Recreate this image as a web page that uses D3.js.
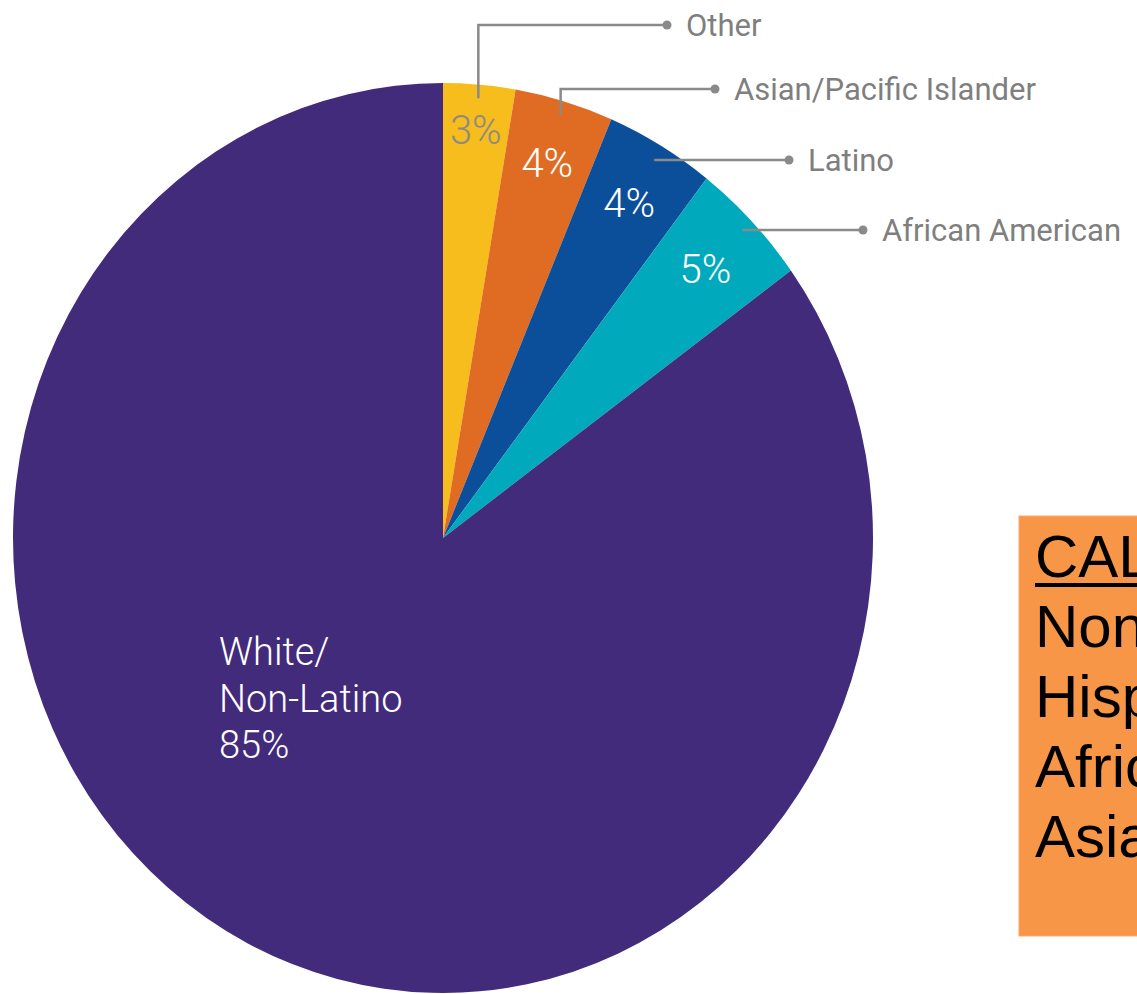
<!DOCTYPE html>
<html>
<head>
<meta charset="utf-8">
<script src="https://cdn.jsdelivr.net/npm/d3@7"></script>
<style>
  body { margin: 0; background: #fff; }
  svg { display: block; }
</style>
</head>
<body>
<script>
// slices, clockwise from 12 o'clock
const groups = ["Other", "Asian/Pacific Islander", "Latino", "African American", "White/Non-Latino"];
const shares = [2.7, 3.7, 4.1, 4.5, 85];
const pctLabels = ["3%", "4%", "4%", "5%", "85%"];
const colors = ["#f6bd1d", "#e06c24", "#0b4f9b", "#00aabc", "#432b7c"];

const boxTitle = "CALIFORNIA";
const boxLines = ["Non-Hispanic White", "Hispanic", "African American", "Asian"];

const width = 1137, height = 994;
const cx = 443, cy = 538, rx = 430, ry = 455;

// callout layout for the four small slices (label line y, dot x, pct label radius)
const callouts = [
  {y: 25, dotX: 667, up: true, f: 0.9},
  {y: 89, dotX: 715, up: true, f: 0.86},
  {y: 160, dotX: 789, up: false, f: 0.855},
  {y: 230, dotX: 863, up: false, f: 0.85}
];

const svg = d3.select("body").append("svg")
  .attr("width", width)
  .attr("height", height);

const pie = d3.pie().sort(null).value(d => d);
const arcs = pie(shares);
const arc = d3.arc().innerRadius(0).outerRadius(ry);

// pie is slightly squashed horizontally, like the source image
svg.append("g")
  .attr("transform", `translate(${cx},${cy}) scale(${rx / ry},1)`)
  .selectAll("path")
  .data(arcs)
  .join("path")
  .attr("d", arc)
  .attr("fill", (d, i) => colors[i]);

const mid = d => (d.startAngle + d.endAngle) / 2;
const pt = (a, f) => [cx + Math.sin(a) * rx * f, cy - Math.cos(a) * ry * f];

// percent labels on the small slices
svg.append("g")
  .selectAll("text")
  .data(arcs.slice(0, 4))
  .join("text")
  .attr("x", (d, i) => pt(mid(d), callouts[i].f)[0])
  .attr("y", (d, i) => pt(mid(d), callouts[i].f)[1])
  .attr("text-anchor", "middle")
  .attr("dy", "0.36em")
  .attr("font-family", "Roboto, sans-serif")
  .attr("font-weight", 300)
  .attr("font-size", 40)
  .attr("fill", (d, i) => i === 0 ? "#8d8a84" : "#ffffff")
  .text((d, i) => pctLabels[i]);

// leader lines
const lead = svg.append("g");
arcs.slice(0, 4).forEach((d, i) => {
  const c = callouts[i];
  const [ax, ay] = pt(mid(d), 0.97);
  const pts = c.up ? [[ax, ay], [ax, c.y], [c.dotX, c.y]] : [[ax, c.y], [c.dotX, c.y]];
  lead.append("path")
    .attr("d", d3.line()(pts))
    .attr("fill", "none")
    .attr("stroke", "#8a8a8a")
    .attr("stroke-width", 2.5);
  lead.append("circle")
    .attr("cx", c.dotX).attr("cy", c.y).attr("r", 4.5)
    .attr("fill", "#8a8a8a");
  lead.append("text")
    .attr("x", c.dotX + 19)
    .attr("y", c.y)
    .attr("dy", "0.36em")
    .attr("font-family", "Roboto, sans-serif")
    .attr("font-size", 31)
    .attr("fill", "#7f7f7f")
    .text(groups[i]);
});

// big slice label
const white = svg.append("text")
  .attr("font-family", "Roboto, sans-serif")
  .attr("font-weight", 300)
  .attr("font-size", 38)
  .attr("fill", "#ffffff");
["White/", "Non-Latino", pctLabels[4]].forEach((t, i) => {
  white.append("tspan").attr("x", 219).attr("y", 665 + i * 46.5).text(t);
});

// orange note box, runs off the right edge
const box = svg.append("g");
box.append("rect")
  .attr("x", 1019).attr("y", 516)
  .attr("width", 160).attr("height", 420)
  .attr("fill", "#f79646")
  .attr("stroke", "#f9a869")
  .attr("stroke-width", 1);
box.append("text")
  .attr("x", 1035).attr("y", 577)
  .attr("font-family", "Arial, 'Liberation Sans', sans-serif")
  .attr("font-size", 60)
  .attr("fill", "#000")
  .text(boxTitle);
box.append("line")
  .attr("x1", 1035).attr("x2", 1140)
  .attr("y1", 585).attr("y2", 585)
  .attr("stroke", "#000").attr("stroke-width", 4);
box.selectAll("text.row")
  .data(boxLines)
  .join("text")
  .attr("class", "row")
  .attr("x", 1035)
  .attr("y", (d, i) => 647 + i * 70)
  .attr("font-family", "Arial, 'Liberation Sans', sans-serif")
  .attr("font-size", 60)
  .attr("fill", "#000")
  .text(d => d);
</script>
</body>
</html>
